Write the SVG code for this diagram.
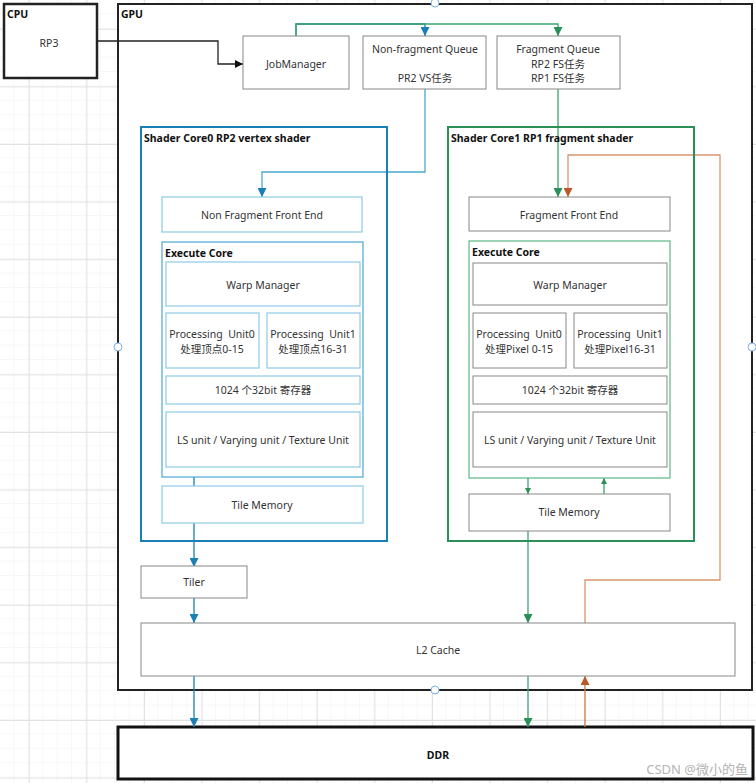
<svg xmlns="http://www.w3.org/2000/svg" width="756" height="783" viewBox="0 0 756 783">
<style>
  text { font-family: "Noto Sans", "Noto Sans CJK SC", sans-serif; font-size: 10.5px; fill: #333; }
  .c { text-anchor: middle; }
  .b { font-weight: bold; fill: #111; }
  .box { fill: #fff; stroke: #888; stroke-width: 1; }
  .lb { fill: #fff; stroke: #8ccbe6; stroke-width: 1.2; }
  .frame { fill: #fff; stroke: #222; stroke-width: 2; }
  .conn { fill: none; stroke-width: 1.3; }
</style>
<defs>
  <pattern id="gminor" width="14.4" height="14.4" patternUnits="userSpaceOnUse" x="0" y="0">
    <path d="M14.4,0 V14.4 M0,14.4 H14.4" fill="none" stroke="#efefef" stroke-width="1"/>
  </pattern>
  <pattern id="gmajor" width="57.6" height="57.6" patternUnits="userSpaceOnUse" x="28.8" y="28.8">
    <path d="M0.5,0 V57.6 M0,0.5 H57.6" fill="none" stroke="#e2e2e2" stroke-width="1"/>
  </pattern>
  <marker id="aK" viewBox="0 0 10 10" refX="10" refY="5" markerWidth="8" markerHeight="8" markerUnits="userSpaceOnUse" orient="auto"><path d="M0,0 L10,5 L0,10 Z" fill="#111"/></marker>
  <marker id="aB" viewBox="0 0 10 10" refX="10" refY="5" markerWidth="9" markerHeight="9" markerUnits="userSpaceOnUse" orient="auto"><path d="M0,0 L10,5 L0,10 Z" fill="#1a7fb5"/></marker>
  <marker id="aG" viewBox="0 0 10 10" refX="10" refY="5" markerWidth="9" markerHeight="9" markerUnits="userSpaceOnUse" orient="auto"><path d="M0,0 L10,5 L0,10 Z" fill="#2b8f58"/></marker>
  <marker id="aGs" viewBox="0 0 10 10" refX="10" refY="5" markerWidth="6" markerHeight="6" markerUnits="userSpaceOnUse" orient="auto"><path d="M0,0 L10,5 L0,10 Z" fill="#2b8f58"/></marker>
  <marker id="aO" viewBox="0 0 10 10" refX="10" refY="5" markerWidth="9" markerHeight="9" markerUnits="userSpaceOnUse" orient="auto"><path d="M0,0 L10,5 L0,10 Z" fill="#b9592b"/></marker>
</defs>

<rect width="756" height="783" fill="#fff"/>
<rect width="756" height="783" fill="url(#gminor)"/>
<rect width="756" height="783" fill="url(#gmajor)"/>

<g id="cpu">
  <rect x="4" y="4" width="93" height="74" fill="#fff" stroke="#222" stroke-width="2.5"/>
  <text class="b" x="7" y="18">CPU</text>
  <text class="c" x="49" y="47">RP3</text>
</g>

<g id="gpu">
  <rect class="frame" x="118" y="4" width="634" height="686"/>
  <text class="b" x="121" y="18">GPU</text>
</g>

<g id="ddr">
  <rect x="118" y="727" width="635" height="52" fill="#fff" stroke="#111" stroke-width="3"/>
  <text class="c b" x="438" y="759">DDR</text>
</g>

<g id="connectors">
  <path class="conn" d="M97,41 H218 V64 H243" stroke="#222" marker-end="url(#aK)"/>
  <path class="conn" d="M296,36 V24 H425 V36" stroke="#1a7fb5" marker-end="url(#aB)"/>
  <path class="conn" d="M296,36 V24 H558 V36" stroke="#3aa56e" marker-end="url(#aG)"/>
  <path class="conn" d="M425,89 V172 H262 V197" stroke="#4aa8d0" marker-end="url(#aB)"/>
  <path class="conn" d="M558,89 V197" stroke="#3aa56e" marker-end="url(#aG)"/>
  <path class="conn" d="M585,623 V580 H720 V155 H568 V197" stroke="#d9946e" stroke-width="1.6" marker-end="url(#aO)"/>
  <path class="conn" d="M585,727 V676" stroke="#c9764a" stroke-width="1.6" marker-end="url(#aO)"/>
  <path class="conn" d="M194,477 V567" stroke="#1a7fb5" marker-end="url(#aB)"/>
  <path class="conn" d="M194,598 V623" stroke="#1a7fb5" marker-end="url(#aB)"/>
  <path class="conn" d="M194,676 V727" stroke="#1a7fb5" marker-end="url(#aB)"/>
  <path class="conn" d="M528,531 V623" stroke="#3aa56e" marker-end="url(#aG)"/>
  <path class="conn" d="M528,676 V727" stroke="#3aa56e" marker-end="url(#aG)"/>
  <path class="conn" d="M528,478 V494" stroke="#3aa56e" stroke-width="1" marker-end="url(#aGs)"/>
  <path class="conn" d="M604,494 V478" stroke="#3aa56e" stroke-width="1" marker-end="url(#aGs)"/>
</g>

<g id="jobmanager">
  <rect class="box" x="243" y="36" width="106" height="53"/>
  <text class="c" x="296" y="68">JobManager</text>
</g>
<g id="nonfragment-queue">
  <rect class="box" x="363" y="36" width="123" height="53"/>
  <text class="c" x="425" y="53">Non-fragment Queue</text>
  <text class="c" x="425" y="82">PR2 VS任务</text>
</g>
<g id="fragment-queue">
  <rect class="box" x="497" y="36" width="123" height="53"/>
  <text class="c" x="558" y="53">Fragment Queue</text>
  <text class="c" x="558" y="68">RP2 FS任务</text>
  <text class="c" x="558" y="82">RP1 FS任务</text>
</g>

<g id="shader-core0">
  <rect x="141" y="127" width="246" height="414" fill="none" stroke="#1a7fb5" stroke-width="2"/>
  <text class="b" x="144" y="142">Shader Core0 RP2 vertex shader</text>
</g>
<g id="nf-front-end">
  <rect class="lb" x="162" y="197" width="200" height="35"/>
  <text class="c" x="262" y="219">Non Fragment Front End</text>
</g>
<g id="execute-core0">
  <rect x="162" y="242" width="201" height="235" fill="none" stroke="#4aa8d0" stroke-width="1.2"/>
  <text class="b" x="165" y="257">Execute Core</text>
</g>
<g id="warp-manager0">
  <rect class="lb" x="166" y="262" width="194" height="44"/>
  <text class="c" x="263" y="289">Warp Manager</text>
</g>
<g id="pu0-core0">
  <rect class="lb" x="166" y="313" width="93" height="55"/>
  <text class="c" x="212" y="338" xml:space="preserve">Processing  Unit0</text>
  <text class="c" x="212" y="353">处理顶点0-15</text>
</g>
<g id="pu1-core0">
  <rect class="lb" x="267" y="313" width="93" height="55"/>
  <text class="c" x="313" y="338" xml:space="preserve">Processing  Unit1</text>
  <text class="c" x="313" y="353">处理顶点16-31</text>
</g>
<g id="regs0">
  <rect class="lb" x="166" y="376" width="194" height="28"/>
  <text class="c" x="263" y="394">1024 个32bit 寄存器</text>
</g>
<g id="ls-unit0">
  <rect class="lb" x="166" y="412" width="194" height="55"/>
  <text class="c" x="263" y="444">LS unit / Varying unit / Texture Unit</text>
</g>
<g id="tile-memory0">
  <rect class="lb" x="162" y="486" width="201" height="37"/>
  <text class="c" x="262" y="509">Tile Memory</text>
</g>

<g id="shader-core1">
  <rect x="448" y="127" width="246" height="414" fill="none" stroke="#2b8f58" stroke-width="2"/>
  <text class="b" x="451" y="142">Shader Core1 RP1 fragment shader</text>
</g>
<g id="f-front-end">
  <rect class="box" x="469" y="197" width="201" height="34"/>
  <text class="c" x="569" y="219">Fragment Front End</text>
</g>
<g id="execute-core1">
  <rect x="469" y="241" width="201" height="237" fill="none" stroke="#5cb887" stroke-width="1.2"/>
  <text class="b" x="472" y="256">Execute Core</text>
</g>
<g id="warp-manager1">
  <rect class="box" x="473" y="263" width="194" height="42"/>
  <text class="c" x="570" y="289">Warp Manager</text>
</g>
<g id="pu0-core1">
  <rect class="box" x="473" y="313" width="93" height="55"/>
  <text class="c" x="519" y="338" xml:space="preserve">Processing  Unit0</text>
  <text class="c" x="519" y="353">处理Pixel 0-15</text>
</g>
<g id="pu1-core1">
  <rect class="box" x="574" y="313" width="93" height="55"/>
  <text class="c" x="620" y="338" xml:space="preserve">Processing  Unit1</text>
  <text class="c" x="620" y="353">处理Pixel16-31</text>
</g>
<g id="regs1">
  <rect class="box" x="473" y="376" width="194" height="28"/>
  <text class="c" x="570" y="394">1024 个32bit 寄存器</text>
</g>
<g id="ls-unit1">
  <rect class="box" x="473" y="412" width="194" height="55"/>
  <text class="c" x="570" y="444">LS unit / Varying unit / Texture Unit</text>
</g>
<g id="tile-memory1">
  <rect class="box" x="469" y="494" width="201" height="37"/>
  <text class="c" x="569" y="516">Tile Memory</text>
</g>

<g id="tiler">
  <rect class="box" x="141" y="566" width="106" height="32"/>
  <text class="c" x="194" y="586">Tiler</text>
</g>
<g id="l2-cache">
  <rect class="box" x="141" y="623" width="594" height="53"/>
  <text class="c" x="438" y="654">L2 Cache</text>
</g>

<g id="handles" fill="#fff" stroke="#7fb2e8" stroke-width="1">
  <circle cx="435" cy="3" r="4"/>
  <circle cx="118" cy="347" r="4"/>
  <circle cx="752" cy="347" r="4"/>
  <circle cx="435" cy="690" r="4"/>
</g>

<text x="748" y="774" style="font-size:13px; fill:#b4b4b4; text-anchor:end">CSDN @微小的鱼</text>
</svg>
